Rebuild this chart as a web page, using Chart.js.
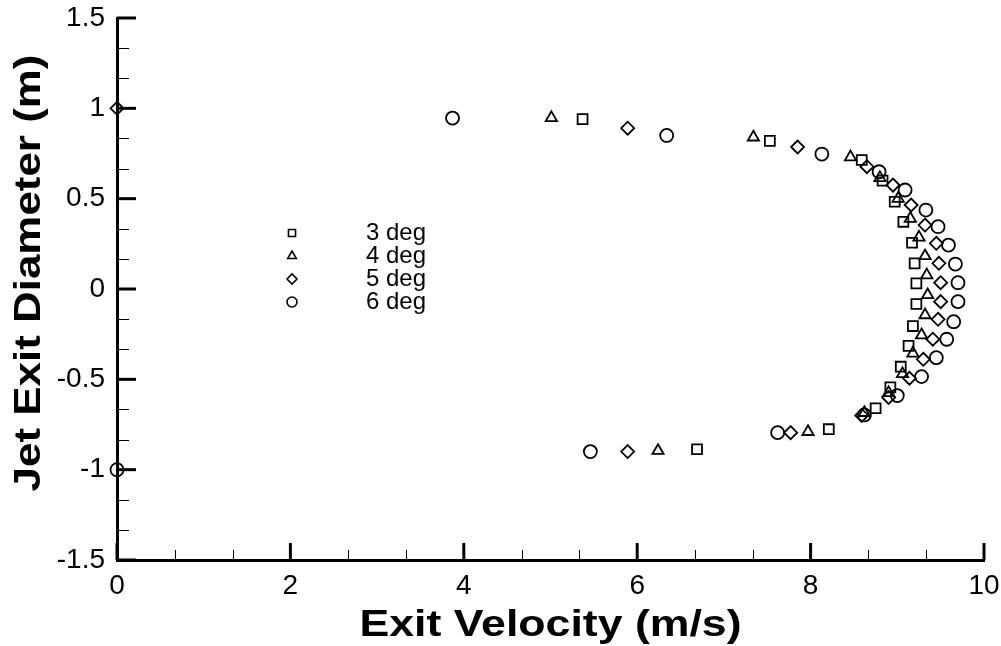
<!DOCTYPE html>
<html>
<head>
<meta charset="utf-8">
<script src="https://cdn.jsdelivr.net/npm/chart.js@4.4.0/dist/chart.umd.min.js"></script>
<style>
  html, body { margin: 0; padding: 0; background: #ffffff; }
  #wrap { width: 1001px; height: 646px; }
</style>
</head>
<body>
<div id="wrap"><canvas id="exitChart" width="1001" height="646"></canvas></div>
<script>
const seriesLabels = ["3 deg", "4 deg", "5 deg", "6 deg"];
const markerStyles = ["rect", "triangle", "rectRot", "circle"];

const deg3X = [5.37, 7.53, 8.59, 8.83, 8.97, 9.07, 9.17, 9.20, 9.22, 9.22, 9.18, 9.13, 9.04, 8.92, 8.75, 8.21, 6.69];
const deg3Y = [0.94, 0.82, 0.714, 0.60, 0.483, 0.372, 0.256, 0.142, 0.031, -0.083, -0.205, -0.315, -0.43, -0.544, -0.66, -0.776, -0.887];

const deg4X = [5.01, 7.34, 8.46, 8.80, 9.01, 9.15, 9.25, 9.32, 9.34, 9.35, 9.32, 9.28, 9.18, 9.06, 8.90, 8.62, 7.97, 6.24];
const deg4Y = [0.947, 0.84, 0.73, 0.615, 0.50, 0.39, 0.286, 0.183, 0.077, -0.033, -0.144, -0.255, -0.356, -0.47, -0.575, -0.685, -0.79, -0.895];

const deg5X = [0, 5.89, 7.85, 8.65, 8.95, 9.16, 9.32, 9.45, 9.48, 9.50, 9.50, 9.47, 9.41, 9.30, 9.14, 8.90, 8.59, 7.77, 5.89];
const deg5Y = [1.0, 0.89, 0.786, 0.677, 0.575, 0.465, 0.354, 0.253, 0.142, 0.035, -0.07, -0.168, -0.278, -0.389, -0.494, -0.60, -0.70, -0.795, -0.90];

const deg6X = [3.87, 6.34, 8.13, 8.79, 9.09, 9.33, 9.47, 9.59, 9.67, 9.70, 9.70, 9.65, 9.57, 9.45, 9.28, 9.00, 8.62, 7.62, 5.46, 0];
const deg6Y = [0.946, 0.85, 0.747, 0.649, 0.548, 0.437, 0.345, 0.243, 0.138, 0.035, -0.07, -0.181, -0.278, -0.38, -0.485, -0.59, -0.697, -0.795, -0.90, -1.0];

const xTickValues = [0, 2, 4, 6, 8, 10];
const yTickValues = [-1.5, -1, -0.5, 0, 0.5, 1, 1.5];

const FONT = "'Liberation Sans', Arial, sans-serif";
const markerRadius = { rect: 7, triangle: 6.5, rectRot: 6.5, circle: 6.5 };

function toPoints(xs, ys) {
  return xs.map((x, i) => ({ x: x, y: ys[i] }));
}

// labels may hang past the plot box, don't let them shrink it
function dropLabelPadding(scale) {
  scale.paddingTop = 0;
  scale.paddingBottom = 0;
  scale.paddingLeft = 0;
  scale.paddingRight = 0;
}

// inward major/minor ticks like the original plot
const innerTicksPlugin = {
  id: "innerTicks",
  afterDraw(chart) {
    const { ctx, chartArea } = chart;
    const xs = chart.scales.x;
    const ys = chart.scales.y;
    ctx.save();
    ctx.strokeStyle = "#000";

    xTickValues.forEach((v, i) => {
      const px = xs.getPixelForValue(v);
      ctx.lineWidth = 3;
      ctx.beginPath();
      ctx.moveTo(px, chartArea.bottom);
      ctx.lineTo(px, chartArea.bottom - 17);
      ctx.stroke();
      if (i < xTickValues.length - 1) {
        const step = (xTickValues[i + 1] - v) / 3;
        ctx.lineWidth = 1;
        for (let k = 1; k < 3; k++) {
          const mx = Math.round(xs.getPixelForValue(v + step * k)) + 0.5;
          ctx.beginPath();
          ctx.moveTo(mx, chartArea.bottom);
          ctx.lineTo(mx, chartArea.bottom - 10);
          ctx.stroke();
        }
      }
    });

    yTickValues.forEach((v, i) => {
      const py = ys.getPixelForValue(v);
      ctx.lineWidth = 3;
      ctx.beginPath();
      ctx.moveTo(chartArea.left, py);
      ctx.lineTo(chartArea.left + 19, py);
      ctx.stroke();
      if (i < yTickValues.length - 1) {
        const step = (yTickValues[i + 1] - v) / 3;
        ctx.lineWidth = 1;
        for (let k = 1; k < 3; k++) {
          const my = Math.round(ys.getPixelForValue(v + step * k)) + 0.5;
          ctx.beginPath();
          ctx.moveTo(chartArea.left, my);
          ctx.lineTo(chartArea.left + 12, my);
          ctx.stroke();
        }
      }
    });
    ctx.restore();
  }
};

const axisTitlePlugin = {
  id: "axisTitles",
  afterDraw(chart) {
    const { ctx, chartArea } = chart;
    ctx.save();
    ctx.fillStyle = "#000";
    ctx.font = "bold 36px " + FONT;
    ctx.textAlign = "center";
    ctx.textBaseline = "middle";
    // stretched a bit, the original font runs wide
    ctx.translate((chartArea.left + chartArea.right) / 2, 626);
    ctx.scale(1.24, 1);
    ctx.fillText("Exit Velocity (m/s)", 0, 0);
    ctx.restore();

    ctx.save();
    ctx.fillStyle = "#000";
    ctx.font = "bold 36px " + FONT;
    ctx.textAlign = "center";
    ctx.textBaseline = "middle";
    ctx.translate(30, 273);
    ctx.rotate(-Math.PI / 2);
    ctx.scale(1.22, 1);
    ctx.fillText("Jet Exit Diameter (m)", 0, 0);
    ctx.restore();
  }
};

const insideLegendPlugin = {
  id: "insideLegend",
  afterDraw(chart) {
    const { ctx } = chart;
    ctx.save();
    ctx.font = "24px " + FONT;
    ctx.textAlign = "left";
    ctx.textBaseline = "middle";
    seriesLabels.forEach((label, i) => {
      const rowY = 233 + i * 23;
      ctx.strokeStyle = "#000";
      ctx.fillStyle = "rgba(0,0,0,0)";
      ctx.lineWidth = 1.6;
      Chart.helpers.drawPoint(ctx, { pointStyle: markerStyles[i], radius: 5, rotation: 0, borderWidth: 1.6 }, 292, rowY);
      ctx.fillStyle = "#000";
      ctx.fillText(label, 366, rowY);
    });
    ctx.restore();
  }
};

function makeDataset(label, style, xs, ys) {
  return {
    label: label,
    data: toPoints(xs, ys),
    pointStyle: style,
    pointRadius: markerRadius[style],
    pointHoverRadius: markerRadius[style],
    pointBorderColor: "#000",
    pointBackgroundColor: "rgba(0,0,0,0)",
    pointBorderWidth: 1.8,
    showLine: false,
    clip: false
  };
}

const ctx = document.getElementById("exitChart").getContext("2d");
const exitChart = new Chart(ctx, {
  type: "scatter",
  plugins: [innerTicksPlugin, axisTitlePlugin, insideLegendPlugin],
  data: {
    datasets: [
      makeDataset(seriesLabels[0], markerStyles[0], deg3X, deg3Y),
      makeDataset(seriesLabels[1], markerStyles[1], deg4X, deg4Y),
      makeDataset(seriesLabels[2], markerStyles[2], deg5X, deg5Y),
      makeDataset(seriesLabels[3], markerStyles[3], deg6X, deg6Y)
    ]
  },
  options: {
    responsive: false,
    animation: false,
    layout: {
      autoPadding: false,
      padding: { top: 18, right: 17, left: 0, bottom: 0 }
    },
    plugins: {
      legend: { display: false },
      tooltip: { enabled: false }
    },
    scales: {
      x: {
        type: "linear",
        min: 0,
        max: 10,
        afterFit(scale) { scale.height = 86; dropLabelPadding(scale); },
        afterBuildTicks(scale) { scale.ticks = xTickValues.map(v => ({ value: v })); },
        grid: { drawOnChartArea: false, drawTicks: false },
        border: { display: true, color: "#000", width: 3 },
        ticks: {
          color: "#000",
          padding: 9,
          maxRotation: 0,
          font: { family: FONT, size: 28 },
          callback: v => String(v)
        }
      },
      y: {
        type: "linear",
        min: -1.5,
        max: 1.5,
        afterFit(scale) { scale.width = 117; dropLabelPadding(scale); },
        afterBuildTicks(scale) { scale.ticks = yTickValues.map(v => ({ value: v })); },
        grid: { drawOnChartArea: false, drawTicks: false },
        border: { display: true, color: "#000", width: 3 },
        ticks: {
          color: "#000",
          padding: 12,
          font: { family: FONT, size: 28 },
          callback: v => String(v)
        }
      }
    }
  }
});
</script>
</body>
</html>
